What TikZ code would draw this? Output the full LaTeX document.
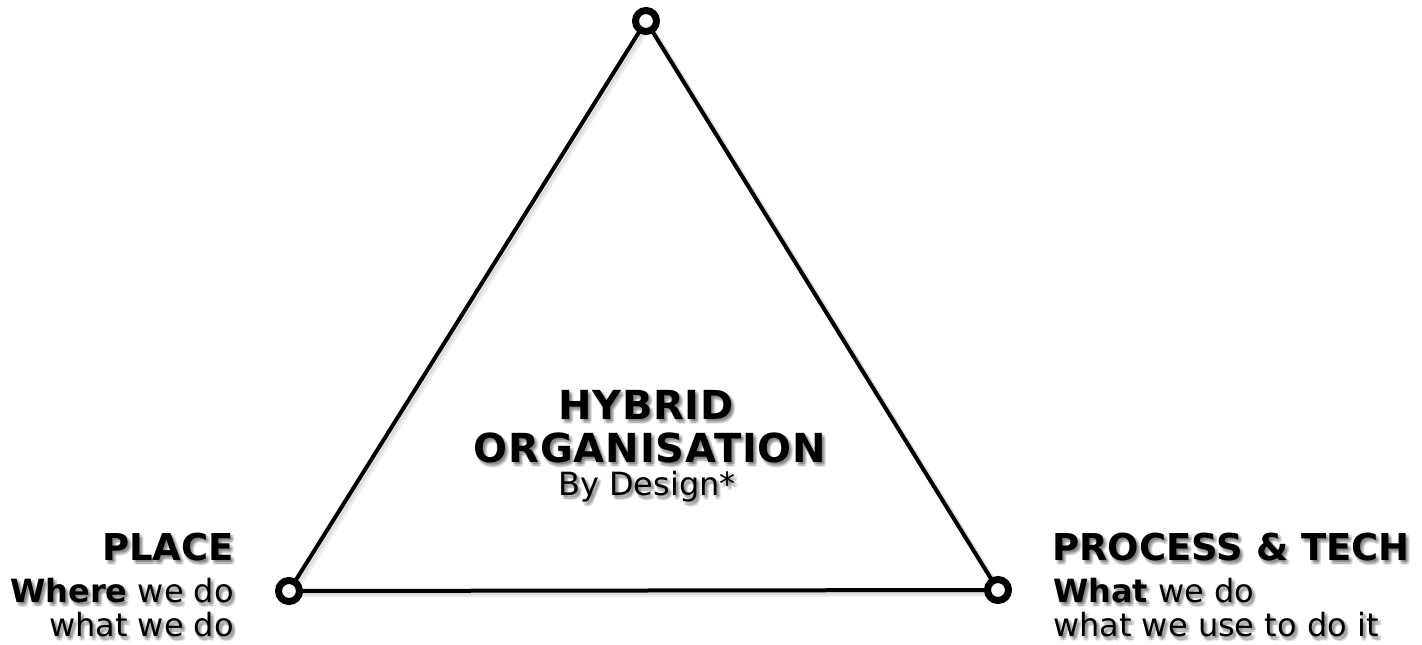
\documentclass[tikz,border=0pt]{standalone}
\usepackage{fontspec}
\usetikzlibrary{calc}
\setmainfont{DejaVu Sans}
\newfontfamily\spacedfont[LetterSpace=2]{DejaVu Sans}
\begin{document}
\begin{tikzpicture}[x=1pt,y=-1pt,
  vert/.style={circle,draw=black,fill=white,line width=7pt,minimum size=21pt,inner sep=0pt},
  edge/.style={line width=4pt,black},
  edgesh/.style={line width=5pt,black,opacity=0.07},
  ctr/.style={inner sep=0pt,font=\fontsize{40}{46}\spacedfont\bfseries},
  big/.style={inner sep=0pt,font=\fontsize{37}{44}\selectfont\bfseries},
  mid/.style={inner sep=0pt,font=\fontsize{32}{38}\selectfont},
  shad/.style={text=black,opacity=0.08}]
\useasboundingbox (0,0) rectangle (1422,645);
\newcommand\stx[4]{% name, style+anchor, position, text
  \foreach \dx/\dy [count=\i] in {1/2,3/2,2/1,2/4,4/4,3/5,1/4,4/2}{%
    \node[#2,shad] (#1s\i) at ($(#3)+(\dx,\dy)$) {#4};}
  \node[#2] (#1) at (#3) {#4};}
\coordinate (pt) at (646,21);
\coordinate (pl) at (289,591);
\coordinate (pr) at (998,590);
\foreach \o in {2,4}{\draw[edgesh] ($(pt)+(\o,\o)$) -- ($(pl)+(\o,\o)$) -- ($(pr)+(\o,\o)$) -- cycle;}
\draw[edge] (pt) -- (pl) -- (pr) -- cycle;
\node[vert] (vt) at (pt) {};
\node[vert] (vl) at (pl) {};
\node[vert] (vr) at (pr) {};
% centre
\stx{hyb}{ctr,anchor=base}{646,419}{HYBRID}
\stx{org}{ctr,anchor=base}{650,462}{ORGANISATION}
\stx{bd}{mid,anchor=base}{647,495}{By Design*}
% left
\stx{pla}{big,anchor=base east}{234,560}{PLACE}
\stx{wh}{mid,anchor=base east}{234,602}{\textbf{Where} we do}
\stx{ww}{mid,anchor=base east}{234,636}{what we do}
% right
\stx{pro}{big,anchor=base west}{1052,560}{PROCESS \& TECH}
\stx{wt}{mid,anchor=base west}{1053,602}{\textbf{What} we do}
\stx{wu}{mid,anchor=base west}{1053,636}{what we use to do it}
\end{tikzpicture}
\end{document}
